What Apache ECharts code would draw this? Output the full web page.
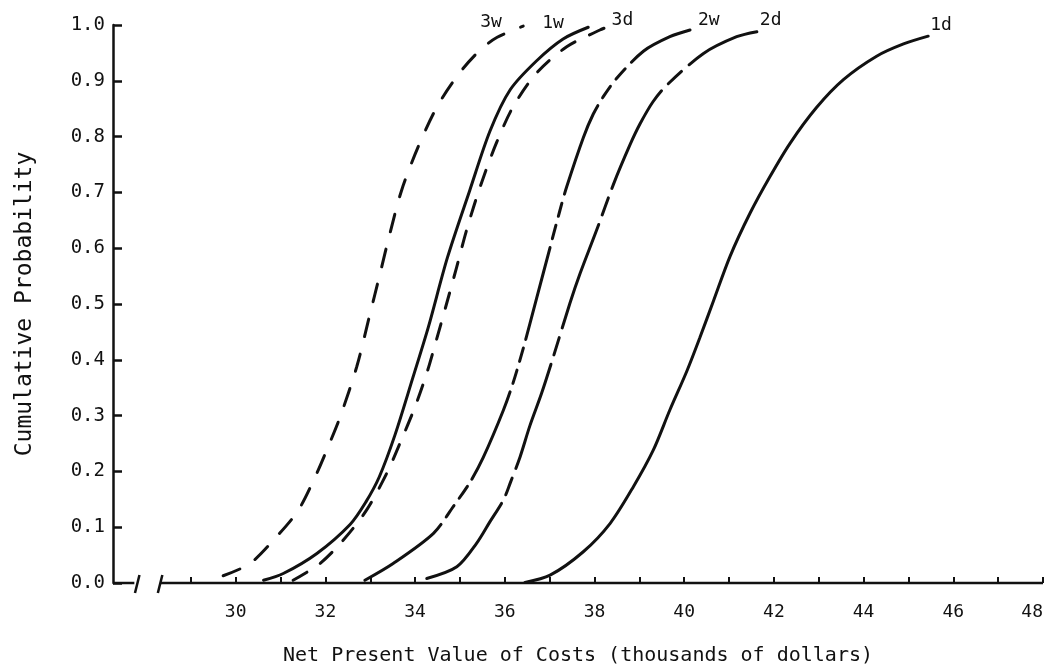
<!DOCTYPE html>
<html>
<head>
<meta charset="utf-8">
<script src="https://cdn.jsdelivr.net/npm/echarts@6/dist/echarts.min.js"></script>
<style>html,body{margin:0;padding:0;background:#fff}#c{width:1047px;height:670px}</style>
</head>
<body>
<div id="c"></div>
<script>
// ---- data ----
const tickValues = [29,30,31,32,33,34,35,36,37,38,39,40,41,42,43,44,45,46,47,48];
const labelValues = [30,32,34,36,38,40,42,44,46,48];
const axisSegments = [[27.264, 27.74], [28.33, 48]];
const breakMarks = [27.81, 28.32];

const curve3w = [[29.72,0.013],[30.32,0.035],[30.91,0.083],[31.40,0.131],[31.81,0.197],[32.06,0.244],[32.33,0.298],[32.70,0.388],[32.96,0.471],[33.22,0.555],[33.44,0.627],[33.70,0.704],[34.07,0.782],[34.5,0.855],[35.0,0.915],[35.45,0.955],[35.83,0.978],[36.41,0.998]];
const curve1w = [[30.62,0.005],[31.06,0.017],[31.81,0.053],[32.55,0.105],[32.9,0.145],[33.2,0.19],[33.55,0.265],[33.95,0.368],[34.3,0.46],[34.72,0.583],[35.22,0.704],[35.67,0.81],[36.12,0.884],[36.71,0.936],[37.3,0.975],[37.86,0.996]];
const curve3d = [[31.28,0.005],[31.88,0.035],[32.40,0.077],[32.92,0.131],[33.37,0.197],[33.66,0.25],[34.0,0.316],[34.26,0.376],[34.48,0.437],[34.70,0.5],[34.93,0.567],[35.15,0.633],[35.45,0.71],[35.82,0.79],[36.19,0.854],[36.71,0.914],[37.38,0.961],[38.12,0.991],[38.27,0.996]];
const curve2w = [[32.88,0.005],[33.51,0.035],[34.41,0.089],[34.85,0.137],[35.22,0.18],[35.52,0.225],[35.97,0.31],[36.19,0.36],[36.41,0.42],[36.56,0.465],[36.86,0.556],[37.23,0.668],[37.38,0.71],[37.75,0.798],[37.97,0.84],[38.2,0.872],[38.50,0.905],[39.09,0.953],[39.68,0.979],[40.13,0.991]];
const curve2d = [[34.26,0.008],[34.93,0.029],[35.37,0.071],[35.67,0.11],[35.97,0.149],[36.12,0.179],[36.34,0.226],[36.56,0.282],[36.82,0.34],[37.08,0.405],[37.45,0.501],[37.68,0.555],[38.05,0.633],[38.42,0.714],[38.79,0.785],[39.01,0.822],[39.3,0.862],[39.61,0.892],[40.43,0.949],[41.17,0.979],[41.62,0.988]];
const curve1d = [[36.45,0.001],[37.01,0.014],[37.75,0.056],[38.35,0.107],[38.87,0.173],[39.31,0.238],[39.68,0.31],[40.06,0.38],[40.35,0.44],[40.65,0.505],[41.02,0.585],[41.47,0.663],[41.91,0.728],[42.36,0.788],[42.95,0.852],[43.55,0.902],[44.29,0.944],[44.89,0.966],[45.44,0.98]];

// ---- styles ----
const ink = '#111';
const font = 'DejaVu Sans Mono';

function curve(name, data, dash, off) {
  return {
    type: 'line', name: name, data: data, symbol: 'none', showSymbol: false,
    smooth: 0.3, clip: false, z: 3,
    lineStyle: { color: ink, width: 3, type: dash, cap: 'round' },
    endLabel: { show: true, formatter: function () { return name; }, distance: 0, offset: off,
      color: ink, fontFamily: font, fontSize: 18 },
    emphasis: { disabled: true }
  };
}

const series = [
  curve('3w', curve3w, [18, 18], [-43, -4]),
  curve('1w', curve1w, 'solid', [-46, -4]),
  curve('3d', curve3d, [16, 16], [5, -7]),
  curve('2w', curve2w, [95, 9, 14, 9, 14, 9], [8, -10]),
  curve('2d', curve2d, [110, 10, 18, 10], [3, -11]),
  curve('1d', curve1d, 'solid', [2, -11])
];

axisSegments.forEach(function (seg) {
  series.push({
    type: 'line', data: [[seg[0], 0], [seg[1], 0]], symbol: 'none', clip: false, z: 2, silent: true,
    lineStyle: { color: ink, width: 2.5 }, emphasis: { disabled: true }
  });
});

series.push({
  type: 'custom', data: breakMarks.map(function (v) { return [v, 0]; }), clip: false, silent: true, z: 4,
  renderItem: function (params, api) {
    const p = api.coord([api.value(0), api.value(1)]);
    return { type: 'line', shape: { x1: p[0] - 2.5, y1: p[1] + 10, x2: p[0] + 2, y2: p[1] - 8 },
      style: { stroke: ink, lineWidth: 2.5 } };
  }
});

const chart = echarts.init(document.getElementById('c'), null, { renderer: 'canvas' });
chart.setOption({
  animation: false,
  backgroundColor: '#fff',
  grid: { left: 113, right: 4, top: 25, bottom: 87, containLabel: false, outerBoundsMode: 'none' },
  xAxis: {
    type: 'value', min: 27.264, max: 48,
    axisLine: { show: false },
    splitLine: { show: false },
    axisTick: { show: true, inside: true, length: 6, lineStyle: { color: ink, width: 2 }, customValues: tickValues },
    axisLabel: { color: ink, fontFamily: font, fontSize: 18, margin: 20, customValues: labelValues, alignMaxLabel: 'right' },
    name: 'Net Present Value of Costs (thousands of dollars)', nameLocation: 'middle', nameGap: 63,
    nameTextStyle: { color: ink, fontFamily: font, fontSize: 20 }
  },
  yAxis: {
    type: 'value', min: 0, max: 1, interval: 0.1,
    axisLine: { show: true, lineStyle: { color: ink, width: 2.5 } },
    axisTick: { show: true, inside: true, length: 9, lineStyle: { color: ink, width: 2.5 } },
    splitLine: { show: false },
    axisLabel: { color: ink, fontFamily: font, fontSize: 19, margin: 8, formatter: function (v) { return v.toFixed(1); } },
    name: 'Cumulative Probability', nameLocation: 'middle', nameGap: 76, nameRotate: 90,
    nameTextStyle: { color: ink, fontFamily: font, fontSize: 23 }
  },
  series: series
});
</script>
</body>
</html>
